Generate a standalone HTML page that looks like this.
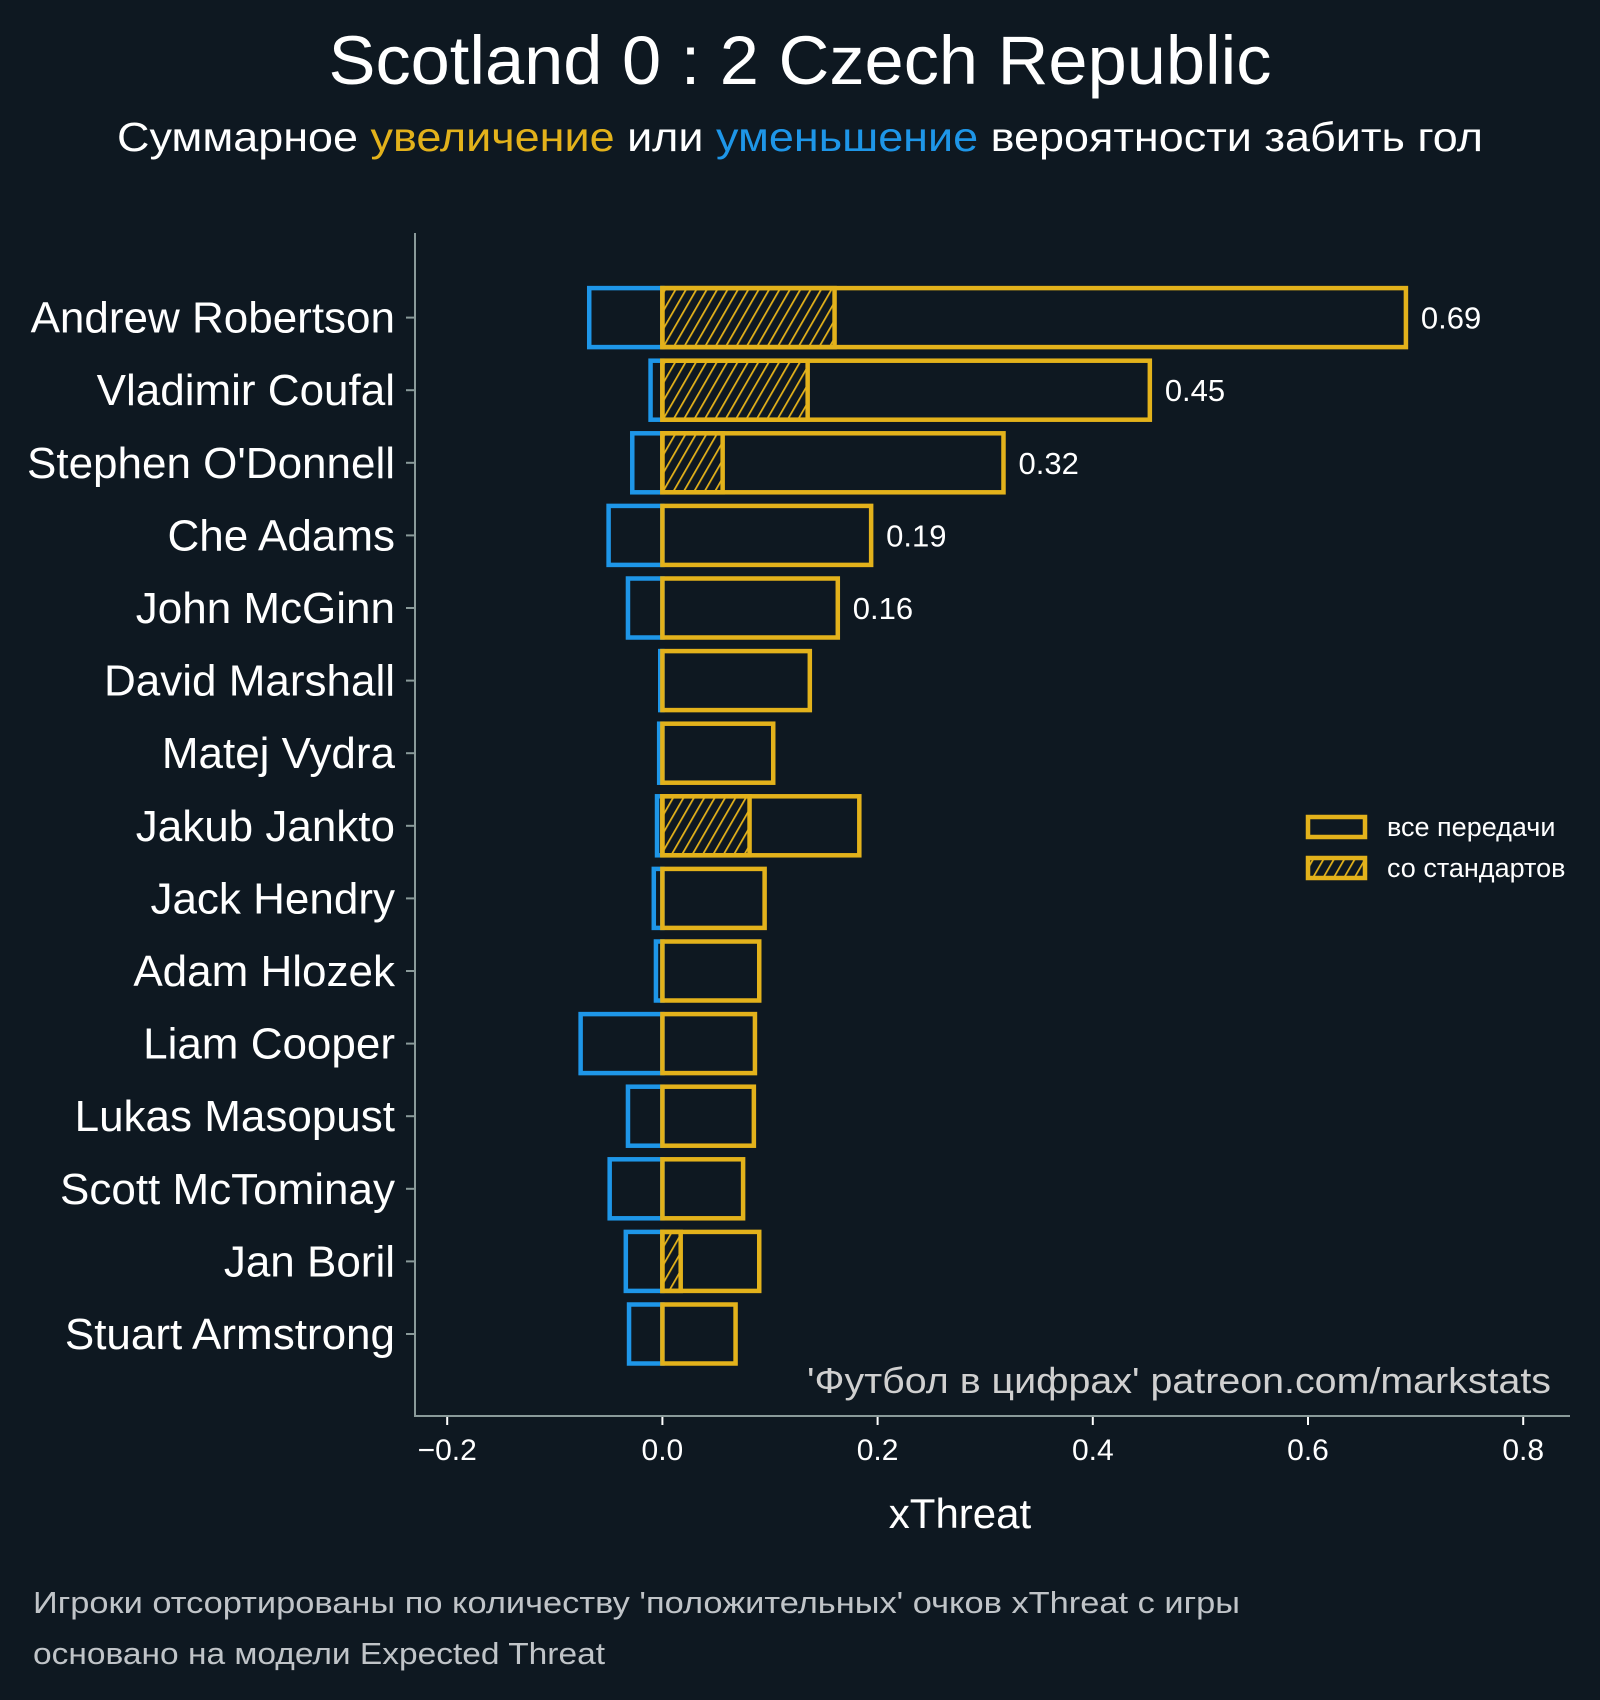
<!DOCTYPE html>
<html><head><meta charset="utf-8"><style>
html,body{margin:0;padding:0;background:#0e1821;}
svg{display:block;font-family:"Liberation Sans","DejaVu Sans",sans-serif;}
</style></head><body>
<svg id="chart" width="1600" height="1700" xmlns="http://www.w3.org/2000/svg">
<defs>
<pattern id="hatch" patternUnits="userSpaceOnUse" width="9" height="9" patternTransform="rotate(30)">
<rect width="9" height="9" fill="#0e1821"/>
<line x1="0" y1="0" x2="0" y2="9" stroke="#e3b21b" stroke-width="3.5"/>
</pattern>
</defs>
<rect width="1600" height="1700" fill="#0e1821"/>
<text x="800" y="84" text-anchor="middle" fill="#ffffff" font-size="69" textLength="943" lengthAdjust="spacingAndGlyphs">Scotland 0 : 2 Czech Republic</text>
<text x="800" y="151" text-anchor="middle" fill="#ffffff" font-size="41" textLength="1366" lengthAdjust="spacingAndGlyphs">Суммарное <tspan fill="#e3b21b">увеличение</tspan> или <tspan fill="#1e96e8">уменьшение</tspan> вероятности забить гол</text>
<g id="plot"></g>
<line x1="415" y1="233" x2="415" y2="1416" stroke="#8a9a9a" stroke-width="2"/>
<line x1="414" y1="1416" x2="1570" y2="1416" stroke="#8a9a9a" stroke-width="2"/>
<text x="1551" y="1393" text-anchor="end" fill="#d0d0d0" font-size="36" textLength="744" lengthAdjust="spacingAndGlyphs">'Футбол в цифрах' patreon.com/markstats</text>
<text x="960" y="1528" text-anchor="middle" fill="#ffffff" font-size="42">xThreat</text>
<g>
<rect x="1308" y="817" width="57" height="20" fill="none" stroke="#e3b21b" stroke-width="4.5"/>
<text x="1387" y="836" fill="#ffffff" font-size="27">все передачи</text>
<rect x="1308" y="858" width="57" height="20" fill="url(#hatch)" stroke="#e3b21b" stroke-width="4.5"/>
<text x="1387" y="877" fill="#ffffff" font-size="27">со стандартов</text>
</g>
<text x="33" y="1613" fill="#c0c4c8" font-size="31" textLength="1207" lengthAdjust="spacingAndGlyphs">Игроки отсортированы по количеству 'положительных' очков xThreat с игры</text>
<text x="33" y="1664" fill="#c0c4c8" font-size="31" textLength="572" lengthAdjust="spacingAndGlyphs">основано на модели Expected Threat</text>
</svg>
<script>
const players = ["Andrew Robertson","Vladimir Coufal","Stephen O'Donnell","Che Adams","John McGinn","David Marshall","Matej Vydra","Jakub Jankto","Jack Hendry","Adam Hlozek","Liam Cooper","Lukas Masopust","Scott McTominay","Jan Boril","Stuart Armstrong"];
const positiveValues = [0.691,0.453,0.317,0.194,0.163,0.137,0.103,0.183,0.095,0.090,0.086,0.085,0.075,0.090,0.068];
const negativeValues = [-0.068,-0.011,-0.028,-0.050,-0.032,-0.002,-0.003,-0.005,-0.008,-0.006,-0.076,-0.032,-0.049,-0.034,-0.031];
const setPieceValues = [0.160,0.135,0.056,0,0,0,0,0.081,0,0,0,0,0,0.017,0];
const valueLabels = ["0.69","0.45","0.32","0.19","0.16","","","","","","","","","",""];
const xTicks = [-0.2,0,0.2,0.4,0.6,0.8];
const xTickLabels = ["−0.2","0.0","0.2","0.4","0.6","0.8"];

const NS = "http://www.w3.org/2000/svg";
const plot = document.getElementById('plot');
const x = v => 662.4 + v * 1076;
const y = i => 317.6 + i * 72.6;
const barH = 59;
const YEL = "#e3b21b", BLU = "#1e96e8";
function mk(tag, attrs, parent) {
  const e = document.createElementNS(NS, tag);
  for (const k in attrs) e.setAttribute(k, attrs[k]);
  (parent || plot).appendChild(e);
  return e;
}
players.forEach((p, i) => {
  const cy = y(i);
  const neg = mk('rect', {x: x(negativeValues[i]), y: cy - barH/2, width: Math.max(0, x(0) - x(negativeValues[i])), height: barH, fill: 'none', stroke: BLU, 'stroke-width': 4.5});
  
  
  if (setPieceValues[i] > 0) {
    const sp = mk('rect', {x: x(0), y: cy - barH/2, width: x(setPieceValues[i]) - x(0), height: barH, fill: 'url(#hatch)', stroke: YEL, 'stroke-width': 4.5});
    
    
  }
  const pos = mk('rect', {x: x(0), y: cy - barH/2, width: x(positiveValues[i]) - x(0), height: barH, fill: 'none', stroke: YEL, 'stroke-width': 4.5});
  
  
  if (valueLabels[i]) {
    const t = mk('text', {x: x(positiveValues[i]) + 15, y: cy + 11, fill: '#ffffff', 'font-size': 31});
    t.textContent = valueLabels[i];
    
    
  }
  const tk = mk('line', {x1: 406, x2: 415, y1: cy, y2: cy, stroke: '#8a9a9a', 'stroke-width': 2});
  
  
  const lbl = mk('text', {x: 395, y: cy + 15, 'text-anchor': 'end', fill: '#ffffff', 'font-size': 44});
  lbl.textContent = p;
  
  
});
xTicks.forEach((v, i) => {
  const tk = mk('line', {x1: x(v), x2: x(v), y1: 1416, y2: 1425, stroke: '#ffffff', 'stroke-width': 2});
  
  
  const t = mk('text', {x: x(v), y: 1460, 'text-anchor': 'middle', fill: '#ffffff', 'font-size': 30});
  t.textContent = xTickLabels[i];
  
  
});
</script>
</body></html>
